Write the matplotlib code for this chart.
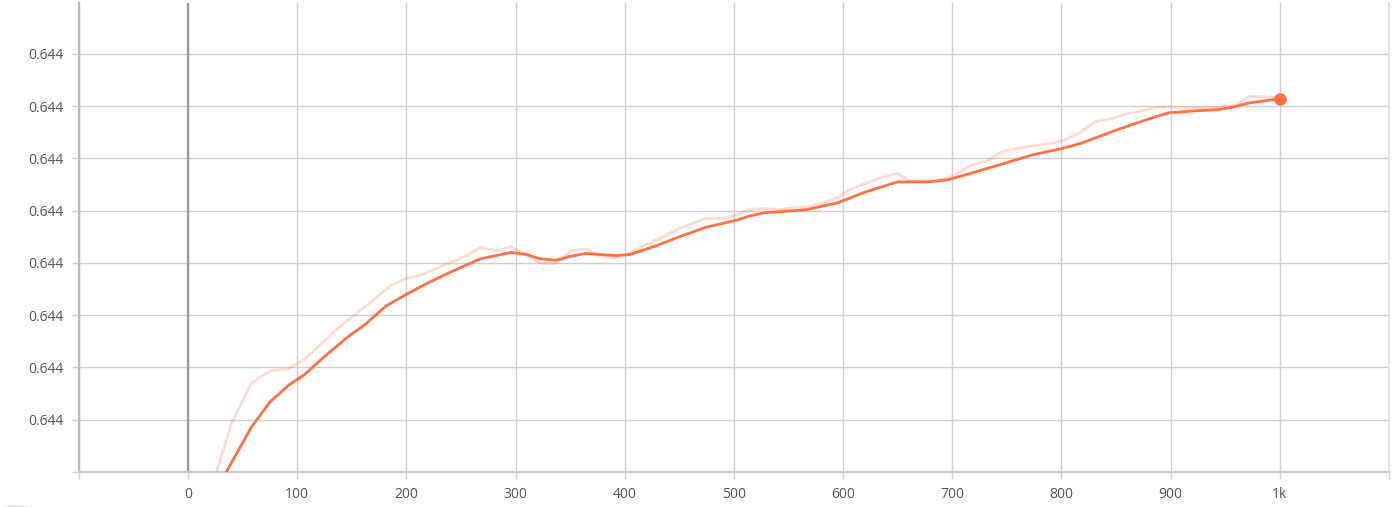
import matplotlib.pyplot as plt
from matplotlib.patches import Circle

# raw values (light line)
raw_steps = [26, 40, 58, 75, 92, 107, 135, 151, 167, 187, 200, 215, 233, 247, 268, 283, 296,
             309, 323, 337, 351, 364, 377, 391, 405, 422, 437, 450, 474, 487, 501, 515, 528,
             542, 556, 570, 582, 595, 606, 621, 634, 650, 661, 678, 693, 702, 716, 732, 744,
             757, 774, 788, 799, 817, 831, 846, 860, 874, 888, 904, 927, 943, 960, 972, 987, 1000]
raw_vals = [0.0, 0.94, 1.70, 1.93, 1.98, 2.16, 2.71, 2.98, 3.24, 3.59, 3.70, 3.78, 3.95, 4.06,
            4.29, 4.23, 4.31, 4.16, 3.99, 3.99, 4.23, 4.27, 4.14, 4.10, 4.20, 4.37, 4.52, 4.66,
            4.85, 4.85, 4.90, 5.02, 5.04, 5.02, 5.06, 5.08, 5.15, 5.25, 5.40, 5.52, 5.63, 5.71,
            5.57, 5.55, 5.61, 5.67, 5.86, 5.95, 6.11, 6.18, 6.24, 6.28, 6.32, 6.49, 6.70, 6.76,
            6.85, 6.91, 6.98, 6.98, 6.97, 6.97, 7.02, 7.18, 7.18, 7.16]

# smoothed values (main line)
smooth_steps = [35, 58, 75, 92, 107, 125, 146, 162, 181, 200, 219, 242, 268, 296, 310, 322,
                337, 349, 364, 377, 393, 405, 429, 450, 474, 501, 515, 528, 542, 567, 595, 621,
                650, 678, 696, 713, 744, 774, 799, 817, 831, 853, 878, 898, 924, 943, 955, 972, 1000]
smooth_vals = [0.0, 0.86, 1.34, 1.66, 1.87, 2.21, 2.58, 2.82, 3.17, 3.40, 3.61, 3.84, 4.08,
               4.20, 4.16, 4.08, 4.05, 4.12, 4.18, 4.16, 4.14, 4.16, 4.33, 4.50, 4.68, 4.81,
               4.90, 4.96, 4.98, 5.02, 5.15, 5.36, 5.55, 5.55, 5.59, 5.69, 5.88, 6.07, 6.18,
               6.28, 6.39, 6.56, 6.74, 6.87, 6.91, 6.93, 6.97, 7.06, 7.14]

x_ticks = list(range(-100, 1101, 100))
x_labels = ["", "0", "100", "200", "300", "400", "500", "600", "700", "800", "900", "1k", ""]
y_ticks = list(range(0, 9))
y_labels = [""] + ["0.644"] * 8

color = "#ff7043"
grid_c = "#d0d0d0"
text_c = "#555555"

plt.rcParams['font.family'] = ['Open Sans', 'DejaVu Sans']

fig = plt.figure(figsize=(13.97, 5.07), dpi=100)
ax = fig.add_axes([0.0565, 0.069, 0.9377, 0.925])

ax.plot(raw_steps, raw_vals, color=color, alpha=0.25, linewidth=2, zorder=3)
ax.plot(smooth_steps, smooth_vals, color=color, linewidth=2, zorder=4)
ax.plot([smooth_steps[-1]], [smooth_vals[-1]], "o", color=color, markersize=8, zorder=5)

ax.axvline(0, color="#999999", linewidth=1.6, zorder=2)

ax.set_xlim(-100, 1100)
ax.set_ylim(0, 8.97)
ax.set_xticks(x_ticks)
ax.set_xticklabels(x_labels)
ax.set_yticks(y_ticks)
ax.set_yticklabels(y_labels)
ax.grid(True, color=grid_c, linewidth=1)
ax.set_axisbelow(True)

ax.tick_params(axis="both", colors=grid_c, labelcolor=text_c, labelsize=10, length=5, width=1)
ax.tick_params(axis="x", pad=6)
ax.tick_params(axis="y", pad=6)

ax.spines["top"].set_visible(False)
ax.spines["left"].set_color("#bbbbbb")
ax.spines["left"].set_linewidth(1.6)
ax.spines["bottom"].set_color("#cccccc")
ax.spines["bottom"].set_linewidth(1.6)
ax.spines["right"].set_color("#dddddd")
ax.spines["right"].set_linewidth(1.2)

# small round button in the bottom-left corner
fig.patches.append(Circle((0.011, -0.01), 0.014, transform=fig.transFigure,
                          facecolor="#e8e8e8", edgecolor="none"))

fig.savefig("out.png", dpi=100)
